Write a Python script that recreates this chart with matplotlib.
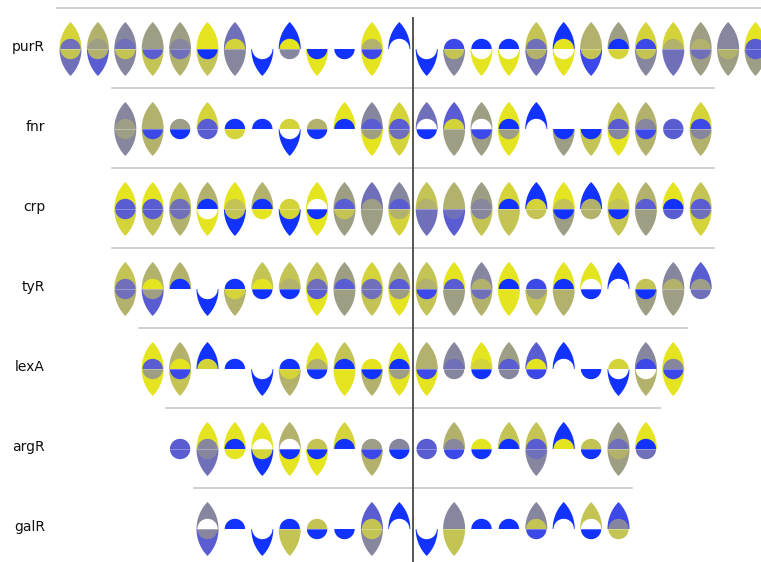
import numpy as np
import matplotlib.pyplot as plt
from matplotlib.patches import Polygon, Wedge

N = None   # part not drawn
WH = -1    # white (empty) inner half

# colour levels: 0 = yellow ... 4/5 = grey ... 9 = blue
palette = ["#e4e420", "#d4d43a", "#c4c454", "#b2b26c", "#9e9e84",
           "#86869e", "#7070ba", "#5a5cd2", "#3c48e8", "#1232ff"]

names = ["purR", "fnr", "crp", "tyR", "lexA", "argR", "galR"]

# tp = top petal, ti = top inner half circle, bi = bottom inner, bp = bottom petal
purR_tp = [1, 3, 5, 4, 4, 0, 6, N, 9, N, N, 0, 9, N, N, N, N, 2, 9, 3, 4, 1, 1, 4, 5, 0]
purR_ti = [6, 4, 6, 4, 5, 0, 1, N, 0, N, N, 3, WH, N, 8, 9, 9, 6, 0, 3, 9, 8, 3, 3, 5, 7]
purR_bi = [2, 3, 2, 7, 6, 9, 5, WH, 5, 9, 9, 8, N, WH, 2, WH, WH, 3, WH, 2, 1, 2, 6, 6, 3, 7]
purR_bp = [6, 7, 5, 2, 3, 2, 5, 9, N, 0, N, 0, N, 9, 5, 0, 0, 6, 0, 8, N, 5, 6, 4, 4, 4]

fnr_tp = [5, 3, N, 1, N, N, N, N, 0, 5, 1, 6, 7, 4, 0, 9, N, N, 2, 3, N, 1]
fnr_ti = [4, 3, 4, 7, 9, 9, 1, 3, 9, 7, 7, WH, 1, WH, 9, WH, N, N, 7, 5, 7, 8]
fnr_bi = [4, 8, 9, 7, 1, N, WH, 9, N, 4, 6, 9, 4, 8, 4, N, 9, 9, 5, 8, 7, 5]
fnr_bp = [5, 3, N, N, N, N, 9, N, N, 0, 1, N, 4, 4, 0, N, 4, 2, 0, 3, N, 3]

crp_tp = [0, 0, 2, 3, 0, 3, N, 0, 4, 6, 5, 2, 3, 4, 1, 9, 0, 9, 1, 3, 0, 2]
crp_ti = [7, 7, 6, 9, 2, 9, 1, WH, 7, 4, 7, 3, 3, 5, 9, 1, 2, 3, 2, 7, 9, 7]
crp_bi = [7, 7, 6, WH, 2, 0, 1, 9, 2, 4, 3, 6, 6, 5, 2, 2, 9, 3, 9, 4, 7, 6]
crp_bp = [1, 2, 3, 0, 9, N, 9, 0, 4, 4, 1, 6, 7, 2, 2, N, 4, N, 2, 4, N, 1]

tyR_tp = [2, 3, 3, N, N, 2, 2, 2, 4, 1, 3, 2, 0, 5, 0, N, 0, 0, 9, N, 5, 7]
tyR_ti = [6, 0, 9, N, 9, 0, 3, 6, 7, 6, 7, 3, 7, 3, 9, 8, 9, WH, WH, 2, 3, 4]
tyR_bi = [6, 4, N, WH, 1, 9, 9, 7, 4, 6, 4, 8, 4, 6, 0, 4, 3, 9, N, 9, 4, 6]
tyR_bp = [3, 7, N, 9, 3, N, N, 0, 4, 2, 0, 2, 4, 3, 0, 2, 3, N, N, 4, 4, N]

lexA_tp = [0, 3, 9, N, N, N, 0, 2, N, 0, 3, 5, 0, 4, 7, 9, N, N, 5, 0]
lexA_ti = [7, 0, 1, 9, N, 9, 3, 9, 0, 9, 3, 6, 1, 7, 0, WH, N, 1, 8, 5]
lexA_bi = [4, 8, N, N, WH, 1, 9, 0, 9, 4, 8, 5, 9, 5, 8, N, 9, WH, WH, 8]
lexA_bp = [0, 2, N, N, 9, 3, N, 0, 3, 0, 0, N, N, N, N, N, N, 9, 3, 0]

argR_tp = [N, 0, 0, 0, 3, N, 1, N, N, N, 3, N, 2, 2, 9, N, 4, 0]
argR_ti = [7, 5, 9, WH, WH, 2, 9, 4, 5, 7, 5, 0, 9, 7, 0, 2, 6, 9]
argR_bi = [7, 5, 0, 1, 9, 9, N, 8, 9, 7, 8, 9, N, 6, N, 9, 3, 6]
argR_bp = [N, 6, N, 9, 0, 0, N, 3, N, N, N, N, N, 5, N, N, 4, N]

galR_tp = [5, N, N, N, N, N, 7, 9, N, 5, N, N, 5, 9, 2, 8]
galR_ti = [WH, 9, N, 9, 2, N, 2, WH, N, 5, 9, 9, 2, WH, WH, 5]
galR_bi = [5, N, WH, 2, 9, 9, 2, N, WH, 2, N, N, 8, N, 9, 2]
galR_bp = [7, N, 9, 2, N, N, 5, N, 9, 2, N, N, N, N, N, N]

rows = [
    (purR_tp, purR_ti, purR_bi, purR_bp),
    (fnr_tp, fnr_ti, fnr_bi, fnr_bp),
    (crp_tp, crp_ti, crp_bi, crp_bp),
    (tyR_tp, tyR_ti, tyR_bi, tyR_bp),
    (lexA_tp, lexA_ti, lexA_bi, lexA_bp),
    (argR_tp, argR_ti, argR_bi, argR_bp),
    (galR_tp, galR_ti, galR_bi, galR_bp),
]

# geometry, in units of one glyph step (27.4 px)
U = 27.4
ROW = 80 / U
PW = 11 / U      # petal half width
PH = 27 / U      # petal height
R_IN = 10.2 / U  # inner half circle radius


def colour(v):
    return "white" if v == WH else palette[v]


def petal_xy(x0, y0, sign):
    c = (PH ** 2 - PW ** 2) / (2 * PW)
    r = PW + c
    a = np.arctan2(PH, c)
    t1 = np.linspace(np.pi, np.pi - a, 40)
    t2 = np.linspace(a, 0, 40)
    xs = np.concatenate([c + r * np.cos(t1), -c + r * np.cos(t2)])
    ys = np.concatenate([r * np.sin(t1), r * np.sin(t2)])
    return np.column_stack([x0 + xs, y0 + sign * ys])


fig = plt.figure(figsize=(7.61, 5.62), dpi=100)
ax = fig.add_axes([0, 0, 1, 1])
ax.set_xlim(-413 / U, (761 - 413) / U)
top = 49 / U
ax.set_ylim(top - 562 / U, top)
ax.axis("off")

for i, (name, (tp, ti, bi, bp)) in enumerate(zip(names, rows)):
    yc = -i * ROW
    n = len(tp)
    ax.plot([-n / 2, n / 2], [yc + 41 / U, yc + 41 / U], color="#c8c8c8", lw=1.2, zorder=1)
    ax.text(-368 / U, yc + 1.5 / U, name, ha="right", va="center", fontsize=10, color="#111111")
    for k in range(n):
        x = k - (n - 1) / 2
        for sign, pet, inn in ((1, tp[k], ti[k]), (-1, bp[k], bi[k])):
            if pet is not None:
                ax.add_patch(Polygon(petal_xy(x, yc, sign), closed=True,
                                     facecolor=colour(pet), edgecolor="none", zorder=2))
            if inn is not None:
                a0, a1 = (0, 180) if sign > 0 else (180, 360)
                ax.add_patch(Wedge((x, yc), R_IN, a0, a1, facecolor=colour(inn),
                                   edgecolor="none", zorder=3))
        # faint seam between the two halves
        if ti[k] is not None and bi[k] is not None:
            ax.plot([x - PW, x + PW], [yc, yc], color="white", lw=0.6, alpha=0.35, zorder=3.5)

# centre of the palindromic sites
ax.plot([0, 0], [31 / U, top - 562 / U], color="#555555", lw=1.4, zorder=4)

fig.savefig("out.png", dpi=100)
